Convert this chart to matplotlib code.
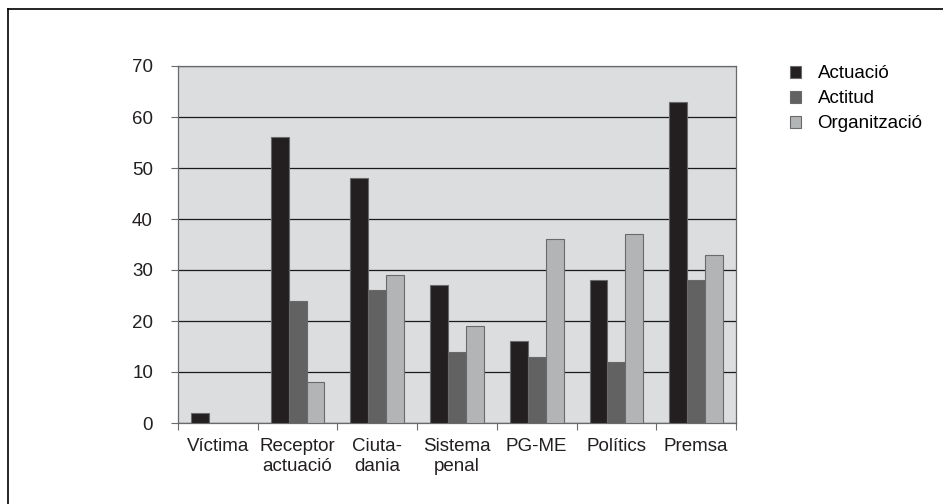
import numpy as np
import matplotlib
matplotlib.use('Agg')
from matplotlib import pyplot as plt
from matplotlib.patches import Patch
from matplotlib.lines import Line2D

# dades del gràfic
categories = ['Víctima', 'Receptor\nactuació', 'Ciuta-\ndania', 'Sistema\npenal', 'PG-ME', 'Polítics', 'Premsa']
series = ['Actuació', 'Actitud', 'Organització']
actuacio = [2, 56, 48, 27, 16, 28, 63]
actitud = [0, 24, 26, 14, 13, 12, 28]
organitzacio = [0, 8, 29, 19, 36, 37, 33]

colors = ['#231f20', '#626263', '#b3b4b6']
plt.rcParams['font.family'] = ['Liberation Sans', 'DejaVu Sans']
fs = 13.5

fig = plt.figure(figsize=(9.43, 5.04), dpi=100)
ax = fig.add_axes([178 / 943, 1 - 423 / 504, (736 - 178) / 943, (423 - 66) / 504])
ax.set_facecolor('#dcdddf')

x = np.arange(len(categories))
w = 0.225
for i, (vals, c) in enumerate(zip([actuacio, actitud, organitzacio], colors)):
    v = np.array(vals, dtype=float)
    ax.bar(x + (i - 1) * w, np.where(v > 0, v, np.nan), w, color=c,
           edgecolor='#6a6a6a', linewidth=0.8, zorder=3, label=series[i])

ax.set_xlim(-0.5, len(categories) - 0.5)
ax.set_ylim(0, 70)
ax.set_yticks(range(0, 71, 10))
ax.yaxis.grid(True, color='#1a1a1a', linewidth=0.9, zorder=1)
ax.set_axisbelow(True)

ax.set_xticks(np.arange(len(categories) + 1) - 0.5)
ax.set_xticklabels([])
ax.set_xticks(x, minor=True)
ax.set_xticklabels(categories, minor=True, fontsize=fs, color='#231f20', va='top')
ax.tick_params(axis='x', which='minor', length=0, pad=11)
ax.tick_params(axis='x', which='major', length=5, color='#6a6a6a', direction='out')
ax.tick_params(axis='y', length=5, color='#6a6a6a', pad=13, labelsize=fs, labelcolor='#231f20')

for s in ['left', 'bottom', 'right', 'top']:
    ax.spines[s].set_color('#6a6a6a')
    ax.spines[s].set_linewidth(0.9)

handles = [Patch(facecolor=c, edgecolor='#6a6a6a', linewidth=0.8) for c in colors]
fig.legend(handles, series, loc='upper left', bbox_to_anchor=(782 / 943, 1 - 58 / 504),
           frameon=False, fontsize=fs, handlelength=0.6, handleheight=0.6,
           handletextpad=0.9, labelspacing=0.42, borderaxespad=0)

# vora de la figura
fig.add_artist(Line2D([8 / 943, 8 / 943], [0, 1 - 9 / 504], color='black', linewidth=1.2, transform=fig.transFigure))
fig.add_artist(Line2D([8 / 943, 1], [1 - 9 / 504, 1 - 9 / 504], color='black', linewidth=1.2, transform=fig.transFigure))

fig.savefig('out.png', dpi=100)
